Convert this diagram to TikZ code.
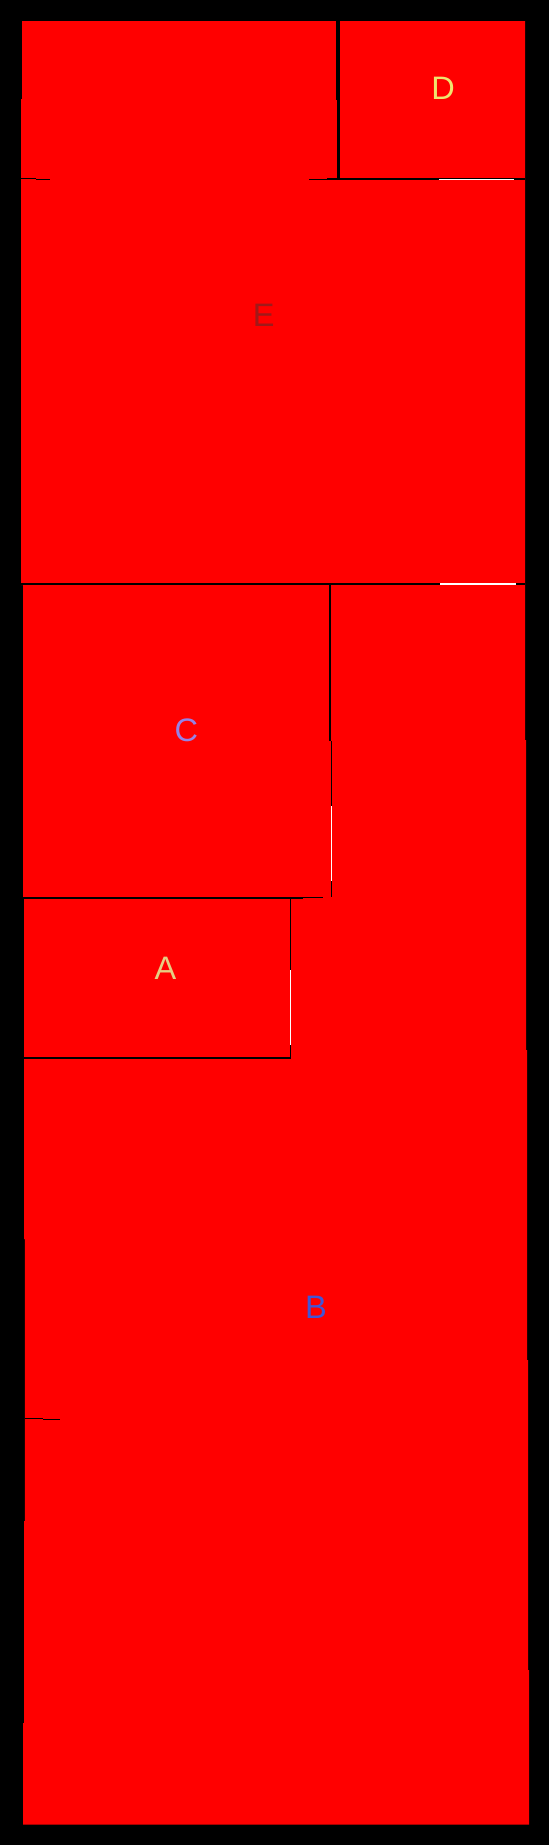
\documentclass[tikz,border=0pt]{standalone}
\usepackage{fontspec}
\setmainfont{Liberation Sans}
\definecolor{pred}{RGB}{255,0,0}
\definecolor{colD}{RGB}{240,228,110}
\definecolor{colA}{RGB}{230,205,130}
\definecolor{colC}{RGB}{150,130,230}
\definecolor{colB}{RGB}{65,85,215}
\definecolor{colE}{RGB}{160,25,25}
\tikzset{
  lbl/.style={font=\fontsize{32.5}{39}\selectfont, inner sep=0pt, anchor=base},
  wall/.style={fill=black},
  gapw/.style={fill=white}
}
\begin{document}
\begin{tikzpicture}[x=1pt,y=-1pt]
\useasboundingbox (0,0) rectangle (549,1845);
\fill[black] (0,0) rectangle (549,1845);
% red area
\fill[pred] (22,21) -- (525,21) -- (525,740) -- (526,740) -- (526,1050) -- (527,1050)
  -- (527,1360) -- (528,1360) -- (528,1670) -- (529,1670) -- (529,1824.5)
  -- (23,1824.5) -- (23,1723) -- (24.2,1723) -- (24.2,1521) -- (24.9,1521)
  -- (24.9,1239) -- (24.2,1239) -- (24.2,897) -- (23.1,897) -- (23.1,585)
  -- (21,585) -- (21,99) -- (22,99) -- cycle;
% divider between top-left and D
\fill[wall] (336.3,21) rectangle (340,100);
\fill[wall] (337.2,100) rectangle (340,178);
% line under top row
\fill[wall] (21,178) rectangle (36,179.2);
\fill[wall] (36,179) rectangle (50,180);
\fill[wall] (309,179) rectangle (327,180);
\fill[wall] (327,178) rectangle (525,180);
\fill[gapw] (439,178.6) rectangle (514,180);
% line under E
\fill[wall] (21,583.3) rectangle (525,585);
\fill[gapw] (440,583.4) rectangle (516,584.8);
% right side of C
\fill[wall] (329.1,585) rectangle (330.6,741);
\fill[wall] (330.6,741) rectangle (332,897);
\fill[gapw] (330.6,806) rectangle (332,881);
% line under C
\fill[wall] (23.1,897) rectangle (303,898.8);
\fill[wall] (303,897) rectangle (323,898);
% right side of A
\fill[wall] (290,898.8) rectangle (291.4,1058.8);
\fill[gapw] (290,970) rectangle (291.4,978);
\fill[gapw] (290,978) rectangle (290.8,1045);
% line under A
\fill[wall] (24.2,1057) rectangle (291.4,1058.8);
% short stub in B
\fill[wall] (24.9,1418.2) rectangle (42.7,1419.3);
\fill[wall] (42.7,1419) rectangle (60,1420);
% labels
\node[lbl, text=colD] (labD) at (443,99.3) {D};
\node[lbl, text=colE] (labE) at (263.7,326.7) {E};
\node[lbl, text=colC] (labC) at (186.3,741.5) {C};
\node[lbl, text=colA] (labA) at (165.5,979) {A};
\node[lbl, text=colB] (labB) at (316,1318.3) {B};
\end{tikzpicture}
\end{document}
